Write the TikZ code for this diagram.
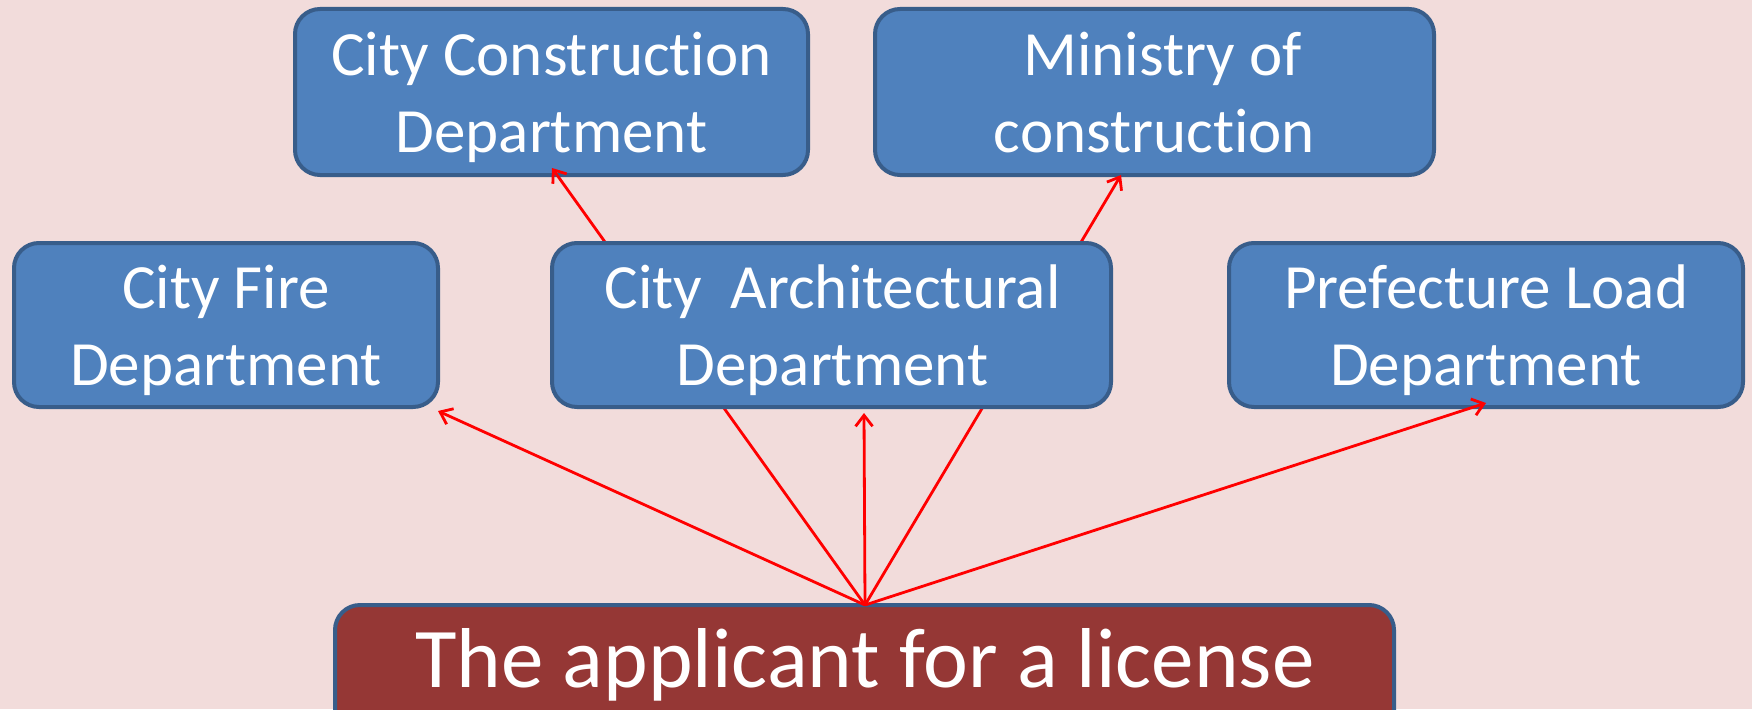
\documentclass[tikz,border=0pt]{standalone}
\usepackage{fontspec}
\setmainfont{Carlito}[Ligatures=CommonOff]
\usetikzlibrary{arrows.meta}
\definecolor{bgpink}{HTML}{F2DCDB}
\definecolor{boxfill}{HTML}{4F81BD}
\definecolor{boxline}{HTML}{385D8A}
\definecolor{appfill}{HTML}{953735}
\definecolor{arrred}{HTML}{FF0000}
\begin{document}
\begin{tikzpicture}[x=1pt,y=-1pt,
  box/.style={draw=boxline, fill=boxfill, line width=4pt, rounded corners=25pt, inner sep=0pt},
  appbox/.style={draw=boxline, fill=appfill, line width=4pt, rounded corners=25pt, inner sep=0pt},
  txt/.style={text=white, align=center, anchor=base, inner sep=0pt, font=\fontsize{63}{77}\selectfont},
  apptxt/.style={text=white, anchor=base, inner sep=0pt, font=\fontsize{85}{100}\selectfont},
  link/.style={draw=arrred, line width=2.8pt, -{Straight Barb[length=11pt,width=17pt,line width=2.8pt]}}]
\fill[bgpink] (0,0) rectangle (1752,709);
\useasboundingbox (0,0) rectangle (1752,709);
\begin{scope}
\clip (0,0) rectangle (1752,709);
% top row
\node[box, minimum width=513pt, minimum height=166pt] (cc) at (551.5,92) {};
\node[txt] (cct) at (551.5,152) {City Construction\\Department};
\node[box, minimum width=559pt, minimum height=166pt] (mc) at (1154.5,92) {};
\node[txt] (mct) at (1154.5,152) {\hspace*{16pt}Ministry of\\construction};
% middle row (outer)
\node[box, minimum width=424pt, minimum height=164pt] (fire) at (226,325) {};
\node[txt] (firet) at (226,385) {City Fire\\Department};
\node[box, minimum width=514pt, minimum height=164pt] (pref) at (1486,325) {};
\node[txt] (preft) at (1486,385) {Prefecture Load\\Department};
% applicant
\node[appbox, minimum width=1059pt, minimum height=155pt] (app) at (864.5,682.5) {};
\node[apptxt] (appt) at (865,687) {The applicant for a license};
% connector end points
\coordinate (src) at (865,605);
\coordinate (tfire) at (438,411);
\coordinate (tcc) at (552,168);
\coordinate (tarch) at (864,413);
\coordinate (tmc) at (1121,175);
\coordinate (tpref) at (1486,403);
\draw[link] (src) -- (tfire);
\draw[link] (src) -- (tcc);
\draw[link] (src) -- (tarch);
\draw[link] (src) -- (tmc);
\draw[link] (src) -- (tpref);
% middle box drawn over the connectors
\node[box, minimum width=559pt, minimum height=164pt] (arch) at (831.5,325) {};
\node[txt] (archt) at (832.5,385) {City\ \ Architectural\\Department};
\end{scope}
\end{tikzpicture}
\end{document}
